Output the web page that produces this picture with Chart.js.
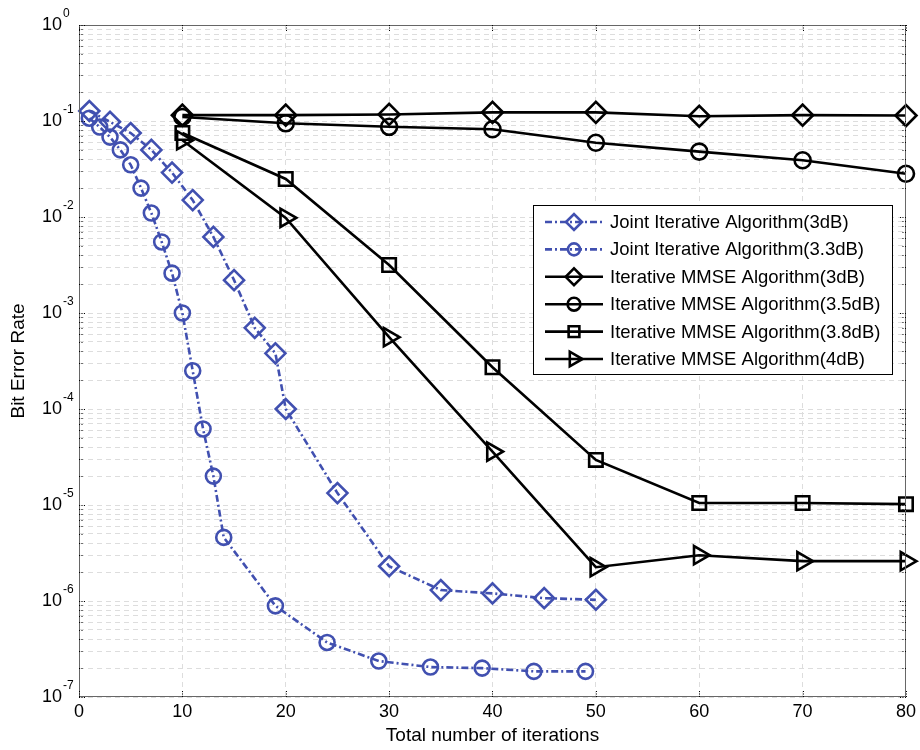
<!DOCTYPE html>
<html>
<head>
<meta charset="utf-8">
<script src="https://cdn.jsdelivr.net/npm/chart.js@4.4.0/dist/chart.umd.min.js"></script>
<style>
  html, body { margin: 0; padding: 0; background: #fff; }
</style>
</head>
<body>
<canvas id="berChart" width="920" height="750"></canvas>
<script>
// ----------------- DATA -----------------
const jointX3 = [1, 3, 5, 7, 9, 11, 13, 15, 17, 19, 20, 25, 30, 35, 40, 45, 50];
const jointBer3 = [0.127, 0.098, 0.075, 0.050, 0.029, 0.015, 0.0062, 0.0022, 7.0e-4, 3.8e-4, 1.0e-4, 1.33e-5, 2.3e-6, 1.3e-6, 1.2e-6, 1.07e-6, 1.03e-6];

const jointX33 = [1, 2, 3, 4, 5, 6, 7, 8, 9, 10, 11, 12, 13, 14, 19, 24, 29, 34, 39, 44, 49];
const jointBer33 = [0.107, 0.0866, 0.068, 0.050, 0.035, 0.020, 0.011, 0.0055, 0.0026, 0.001, 2.5e-4, 6.2e-5, 2.0e-5, 4.6e-6, 8.9e-7, 3.7e-7, 2.37e-7, 2.05e-7, 2.0e-7, 1.85e-7, 1.85e-7];

const mmseX = [10, 20, 30, 40, 50, 60, 70, 80];
const mmseBer3 = [0.115, 0.115, 0.117, 0.123, 0.123, 0.112, 0.115, 0.114];
const mmseBer35 = [0.110, 0.0946, 0.087, 0.082, 0.0594, 0.048, 0.039, 0.0282];
const mmseBer38 = [0.075, 0.0249, 0.00316, 2.72e-4, 2.95e-5, 1.05e-5, 1.05e-5, 1.02e-5];
const mmseBer4 = [0.063, 0.0098, 5.6e-4, 3.6e-5, 2.25e-6, 3.0e-6, 2.6e-6, 2.6e-6];

const xTicks = [0, 10, 20, 30, 40, 50, 60, 70, 80];
const yExponents = [0, -1, -2, -3, -4, -5, -6, -7];

const seriesLabels = [
    "Joint Iterative Algorithm(3dB)",
    "Joint Iterative Algorithm(3.3dB)",
    "Iterative MMSE Algorithm(3dB)",
    "Iterative MMSE Algorithm(3.5dB)",
    "Iterative MMSE Algorithm(3.8dB)",
    "Iterative MMSE Algorithm(4dB)"
];

// ----------------- STYLE -----------------
const FONT = "'Liberation Sans', Arial, Helvetica, sans-serif";
const BLUE = "#4150b0";
const DASHDOT = [7, 3, 2, 3];

function pts(xs, ys){
    return xs.map((x, i) => ({x: x, y: ys[i]}));
}

// all minor/major log ticks between 1e-7 and 1
let yTickValues = [];
yExponents.slice().reverse().forEach(e => {
    for(let k = 1; k <= 9; k++){
        let v = k * Math.pow(10, e);
        if(v <= 1.0000001) yTickValues.push(v);
    }
});

function mkSet(label, data, color, dash, style, radius, rotation){
    return {
        label: label,
        data: data,
        borderColor: color,
        borderWidth: 2.6,
        borderDash: dash,
        fill: false,
        tension: 0,
        pointStyle: style,
        pointRadius: radius,
        pointRotation: rotation || 0,
        pointBorderColor: color,
        pointBackgroundColor: "rgba(0,0,0,0)",
        pointBorderWidth: 2.6,
        clip: false
    };
}

const datasets = [
    mkSet(seriesLabels[0], pts(jointX3, jointBer3), BLUE, DASHDOT, "rectRot", 10),
    mkSet(seriesLabels[1], pts(jointX33, jointBer33), BLUE, DASHDOT, "circle", 7.5),
    mkSet(seriesLabels[2], pts(mmseX, mmseBer3), "#000", [], "rectRot", 10.5),
    mkSet(seriesLabels[3], pts(mmseX, mmseBer35), "#000", [], "circle", 8),
    mkSet(seriesLabels[4], pts(mmseX, mmseBer38), "#000", [], "rect", 9.5),
    mkSet(seriesLabels[5], pts(mmseX, mmseBer4), "#000", [], "triangle", 10.5, 90)
];

// ----------------- DECORATION PLUGIN (frame, ticks, y labels, legend) -----------------
const decorPlugin = {
    id: "decor",
    afterDraw(chart){
        const ctx = chart.ctx;
        const a = chart.chartArea;
        const xs = chart.scales.x, ys = chart.scales.y;
        ctx.save();

        // frame
        ctx.setLineDash([]);
        ctx.strokeStyle = "#666";
        ctx.lineWidth = 1;
        ctx.strokeRect(a.left + 0.5, a.top + 0.5, a.right - a.left - 1, a.bottom - a.top - 1);

        // tick marks (inside)
        ctx.strokeStyle = "#000";
        ctx.beginPath();
        yTickValues.forEach(v => {
            let py = Math.round(ys.getPixelForValue(v)) + 0.5;
            let major = Math.abs(Math.log10(v) - Math.round(Math.log10(v))) < 1e-6;
            let len = major ? 6 : 4;
            ctx.moveTo(a.left, py); ctx.lineTo(a.left + len, py);
            ctx.moveTo(a.right, py); ctx.lineTo(a.right - len, py);
        });
        xTicks.forEach(v => {
            let px = Math.round(xs.getPixelForValue(v)) + 0.5;
            ctx.moveTo(px, a.bottom); ctx.lineTo(px, a.bottom - 6);
            ctx.moveTo(px, a.top); ctx.lineTo(px, a.top + 6);
        });
        ctx.setLineDash([1, 1.5]);
        ctx.stroke();
        ctx.setLineDash([]);

        // y labels 10^e
        ctx.fillStyle = "#000";
        yExponents.forEach(e => {
            let py = ys.getPixelForValue(Math.pow(10, e));
            ctx.font = "18px " + FONT;
            ctx.textAlign = "right";
            ctx.textBaseline = "middle";
            ctx.fillText("10", a.left - 17, py);
            ctx.font = "12px " + FONT;
            ctx.textAlign = "left";
            ctx.fillText(String(e), a.left - 16, py - 11);
        });

        // legend
        const bx = 533, by = 205, bw = 359, bh = 169;
        ctx.fillStyle = "#fff";
        ctx.fillRect(bx, by, bw, bh);
        ctx.strokeStyle = "#000";
        ctx.lineWidth = 1;
        ctx.strokeRect(bx + 0.5, by + 0.5, bw, bh);
        chart.data.datasets.forEach((ds, i) => {
            let ry = by + 17 + i * 27.4;
            ctx.strokeStyle = ds.borderColor;
            ctx.lineWidth = 2.6;
            ctx.setLineDash(ds.borderDash);
            ctx.beginPath();
            ctx.moveTo(545, ry); ctx.lineTo(603, ry);
            ctx.stroke();
            ctx.setLineDash([]);
            ctx.fillStyle = "rgba(0,0,0,0)";
            Chart.helpers.drawPoint(ctx, {
                pointStyle: ds.pointStyle,
                radius: ds.pointRadius * 0.8,
                rotation: ds.pointRotation,
                borderWidth: 2.6
            }, 574, ry);
            ctx.fillStyle = "#000";
            ctx.font = "18.5px " + FONT;
            ctx.textAlign = "left";
            ctx.textBaseline = "middle";
            ctx.fillText(ds.label, 610, ry + 1);
        });
        ctx.restore();
    }
};

// ----------------- CHART -----------------
const ctxBer = document.getElementById("berChart").getContext("2d");

const berChart = new Chart(ctxBer, {
    type: "line",
    data: { datasets: datasets },
    options: {
        responsive: false,
        animation: false,
        devicePixelRatio: 1,
        layout: { padding: { left: 0, top: 25, right: 14, bottom: 0 } },
        plugins: {
            legend: { display: false },
            tooltip: { enabled: false }
        },
        scales: {
            x: {
                type: "linear",
                min: 0,
                max: 80,
                afterBuildTicks: s => { s.ticks = xTicks.map(v => ({value: v})); },
                ticks: { color: "#000", font: { family: FONT, size: 18 }, padding: 4, maxRotation: 0 },
                grid: { color: "#dddddd", lineWidth: 1, drawTicks: false },
                border: { display: false, dash: [5, 4] },
                title: {
                    display: true,
                    text: "Total number of iterations",
                    color: "#000",
                    font: { family: FONT, size: 19 },
                    padding: { top: 0, bottom: 3 }
                },
                afterFit: s => { s.height = 53; }
            },
            y: {
                type: "logarithmic",
                min: 1e-7,
                max: 1,
                afterBuildTicks: s => { s.ticks = yTickValues.map(v => ({value: v})); },
                ticks: { display: false },
                grid: { color: "#dddddd", lineWidth: 1, drawTicks: false },
                border: { display: false, dash: [5, 4] },
                title: {
                    display: true,
                    text: "Bit Error Rate",
                    color: "#000",
                    font: { family: FONT, size: 19 },
                    padding: { top: 7, bottom: 0 }
                },
                afterFit: s => { s.width = 79; }
            }
        }
    },
    plugins: [decorPlugin]
});
</script>
</body>
</html>
